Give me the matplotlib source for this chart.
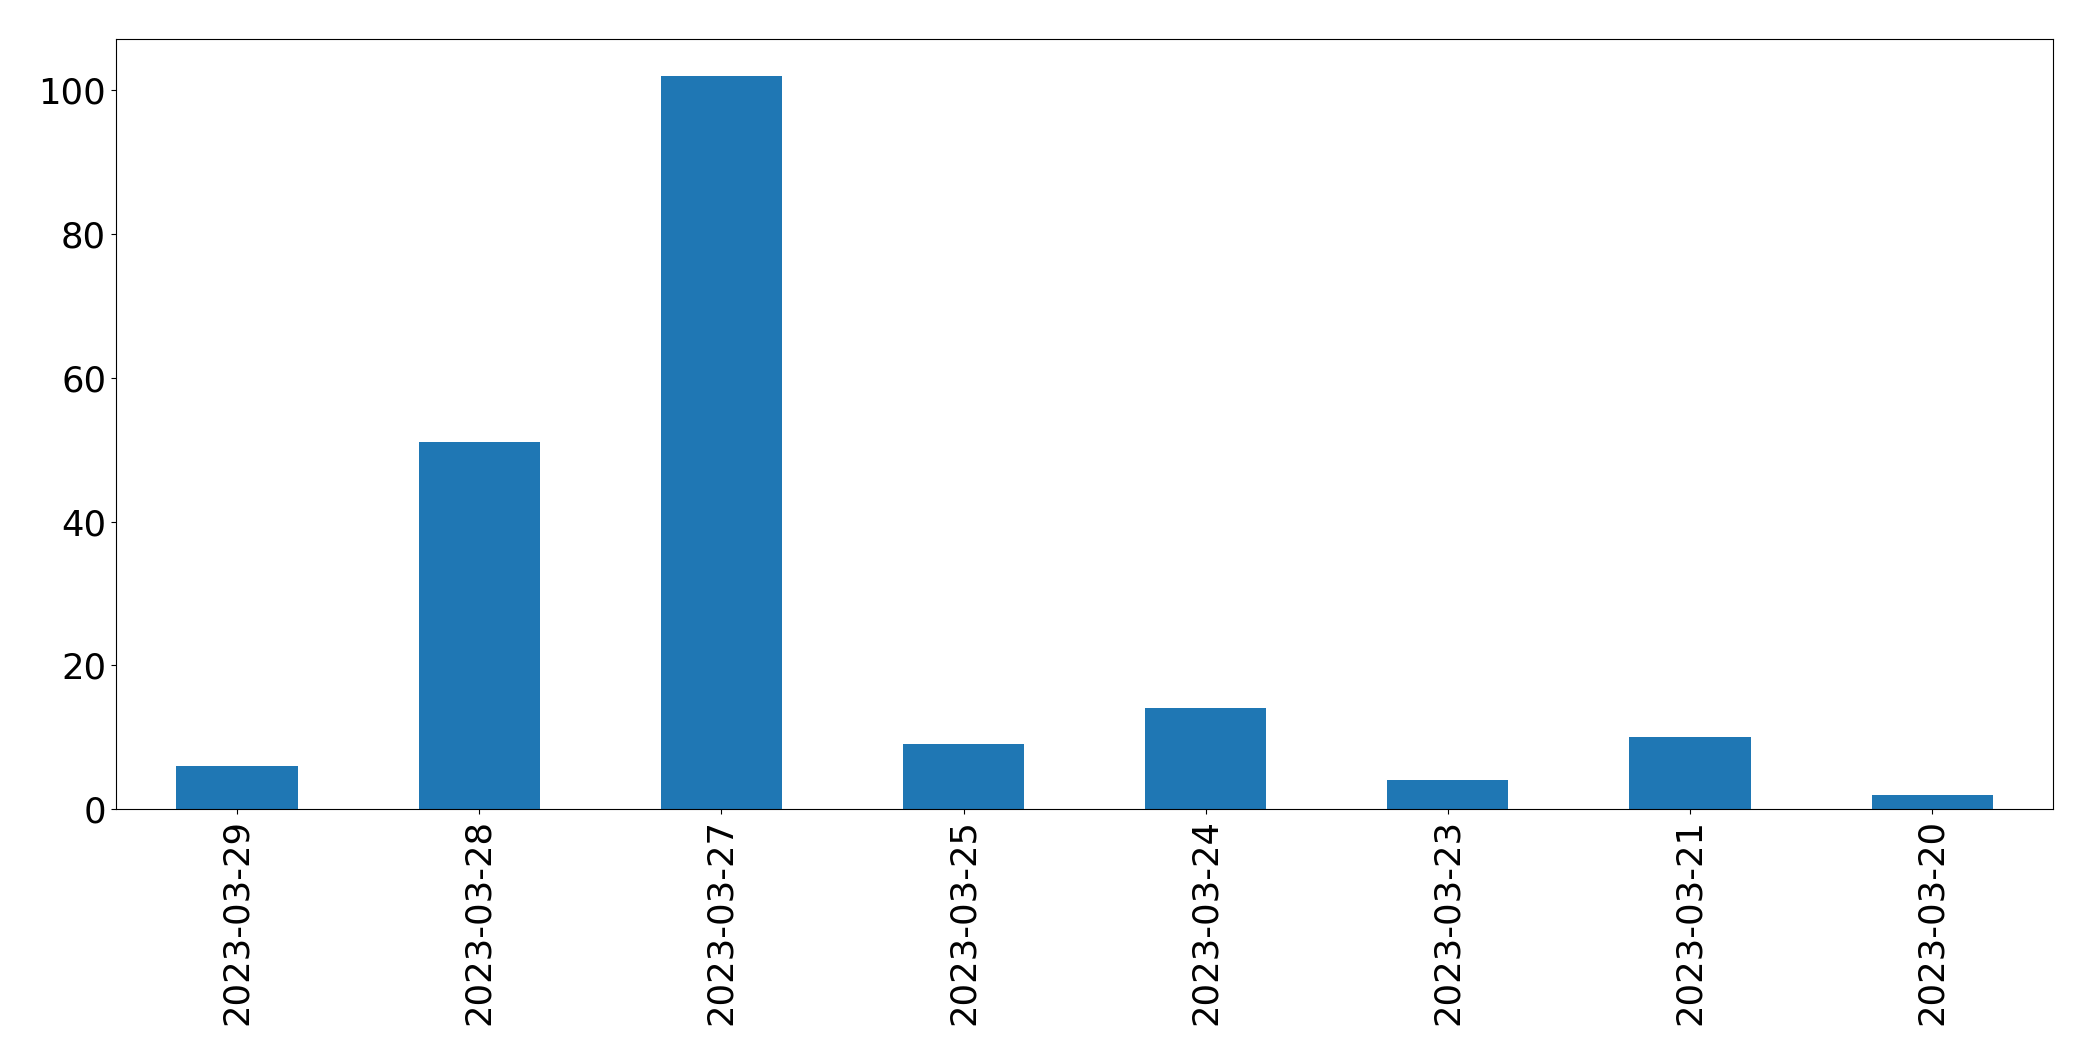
import matplotlib
matplotlib.use('Agg')
import matplotlib.pyplot as plt

dates = ['2023-03-29', '2023-03-28', '2023-03-27', '2023-03-25',
         '2023-03-24', '2023-03-23', '2023-03-21', '2023-03-20']
counts = [6, 51, 102, 9, 14, 4, 10, 2]

fig, ax = plt.subplots(figsize=(20.93, 10.61), dpi=100)
fig.subplots_adjust(left=0.0554, right=0.981, top=0.963, bottom=0.2375)

ax.bar(range(len(dates)), counts, width=0.5, color='#1f77b4')
ax.set_xlim(-0.5, len(dates) - 0.5)
ax.set_ylim(0, max(counts) * 1.05)
ax.set_xticks(range(len(dates)))
ax.set_xticklabels(dates, rotation=90)
ax.tick_params(labelsize=25.5)

plt.savefig('out.png', dpi=100)
